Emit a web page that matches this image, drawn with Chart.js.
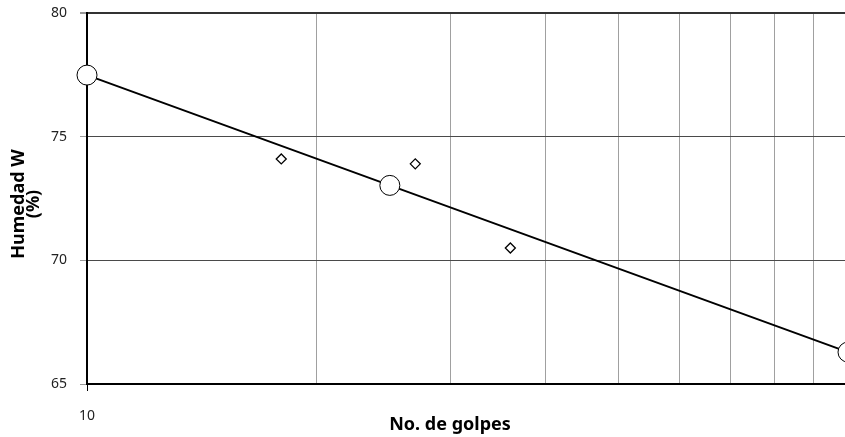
<!DOCTYPE html>
<html>
<head>
<meta charset="utf-8">
<script src="https://cdn.jsdelivr.net/npm/chart.js@4"></script>
<style>
  html, body { margin: 0; padding: 0; overflow: hidden; background: #fff; }
  canvas { display: block; }
</style>
</head>
<body>
<canvas id="chart" width="852" height="437"></canvas>
<script>
const FONT = '"Noto Sans", "Open Sans", sans-serif';

// fitted line (big circles)
const lineX = [10, 25, 100];
const lineY = [77.49, 73.03, 66.29];
// measured points (diamonds)
const pointX = [18, 27, 36];
const pointY = [74.1, 73.9, 70.5];

const xTicks = [10, 20, 30, 40, 50, 60, 70, 80, 90, 100];
const xLabels = ['10'];
const yTicks = [65, 70, 75, 80];

const xTitle = 'No. de golpes';
const yTitle = ['Humedad W', '(%)'];

const toXY = (xs, ys) => xs.map((x, i) => ({ x, y: ys[i] }));

const axisTitles = {
  id: 'axisTitles',
  afterDraw(chart) {
    const { ctx } = chart;
    ctx.save();
    ctx.fillStyle = '#000';
    ctx.font = `bold 18px ${FONT}`;
    ctx.textAlign = 'center';
    ctx.textBaseline = 'middle';
    ctx.fillText(xTitle, 450, 425);
    ctx.translate(0, 204);
    ctx.rotate(-Math.PI / 2);
    ctx.fillText(yTitle[0], 0, 19);
    ctx.fillText(yTitle[1], 0, 34);
    ctx.restore();
  },
};

new Chart(document.getElementById('chart'), {
  type: 'scatter',
  data: {
    datasets: [{
      type: 'line',
      data: toXY(lineX, lineY),
      borderColor: '#000',
      borderWidth: 2,
      pointRadius: 10,
      pointBackgroundColor: '#fff',
      pointBorderColor: '#000',
      pointBorderWidth: 1,
      clip: false,
    }, {
      data: toXY(pointX, pointY),
      pointStyle: 'rectRot',
      pointRadius: 5,
      pointBackgroundColor: '#fff',
      pointBorderColor: '#000',
      pointBorderWidth: 1.3,
      clip: false,
    }],
  },
  options: {
    responsive: false,
    animation: false,
    layout: { autoPadding: false, padding: { top: 13, right: 4, left: 0, bottom: 0 } },
    plugins: { legend: { display: false }, tooltip: { enabled: false } },
    scales: {
      x: {
        type: 'logarithmic',
        min: 10,
        max: 100,
        afterBuildTicks(scale) {
          scale.ticks = xTicks.map((value) => ({ value }));
        },
        afterFit(scale) {
          scale.height = 53;
          scale.paddingLeft = 0;
          scale.paddingRight = 0;
        },
        ticks: {
          autoSkip: false,
          maxRotation: 0,
          padding: 17,
          color: '#222',
          font: { family: FONT, size: 14 },
          callback: (v) => (xLabels.includes(String(v)) ? String(v) : ''),
        },
        grid: {
          color: (c) => (c.tick && c.tick.value === 10 ? '#000' : '#a0a0a0'),
          lineWidth: 1,
          tickLength: 7,
          tickColor: (c) => (c.tick && c.tick.value === 10 ? '#000' : 'transparent'),
        },
        border: { color: '#000', width: 2 },
      },
      y: {
        min: 65,
        max: 80,
        afterBuildTicks(scale) {
          scale.ticks = yTicks.map((value) => ({ value }));
        },
        afterFit(scale) {
          scale.width = 87;
          scale.paddingTop = 0;
          scale.paddingBottom = 0;
        },
        ticks: {
          padding: 13,
          color: '#222',
          font: { family: FONT, size: 14 },
        },
        grid: {
          color: (c) => (c.tick && c.tick.value === 80 ? '#333' : '#4a4a4a'),
          lineWidth: (c) => (c.tick && c.tick.value === 80 ? 2 : 1),
          tickLength: 7,
          tickColor: '#999',
        },
        border: { color: '#000', width: 2 },
      },
    },
  },
  plugins: [axisTitles],
});
</script>
</body>
</html>
